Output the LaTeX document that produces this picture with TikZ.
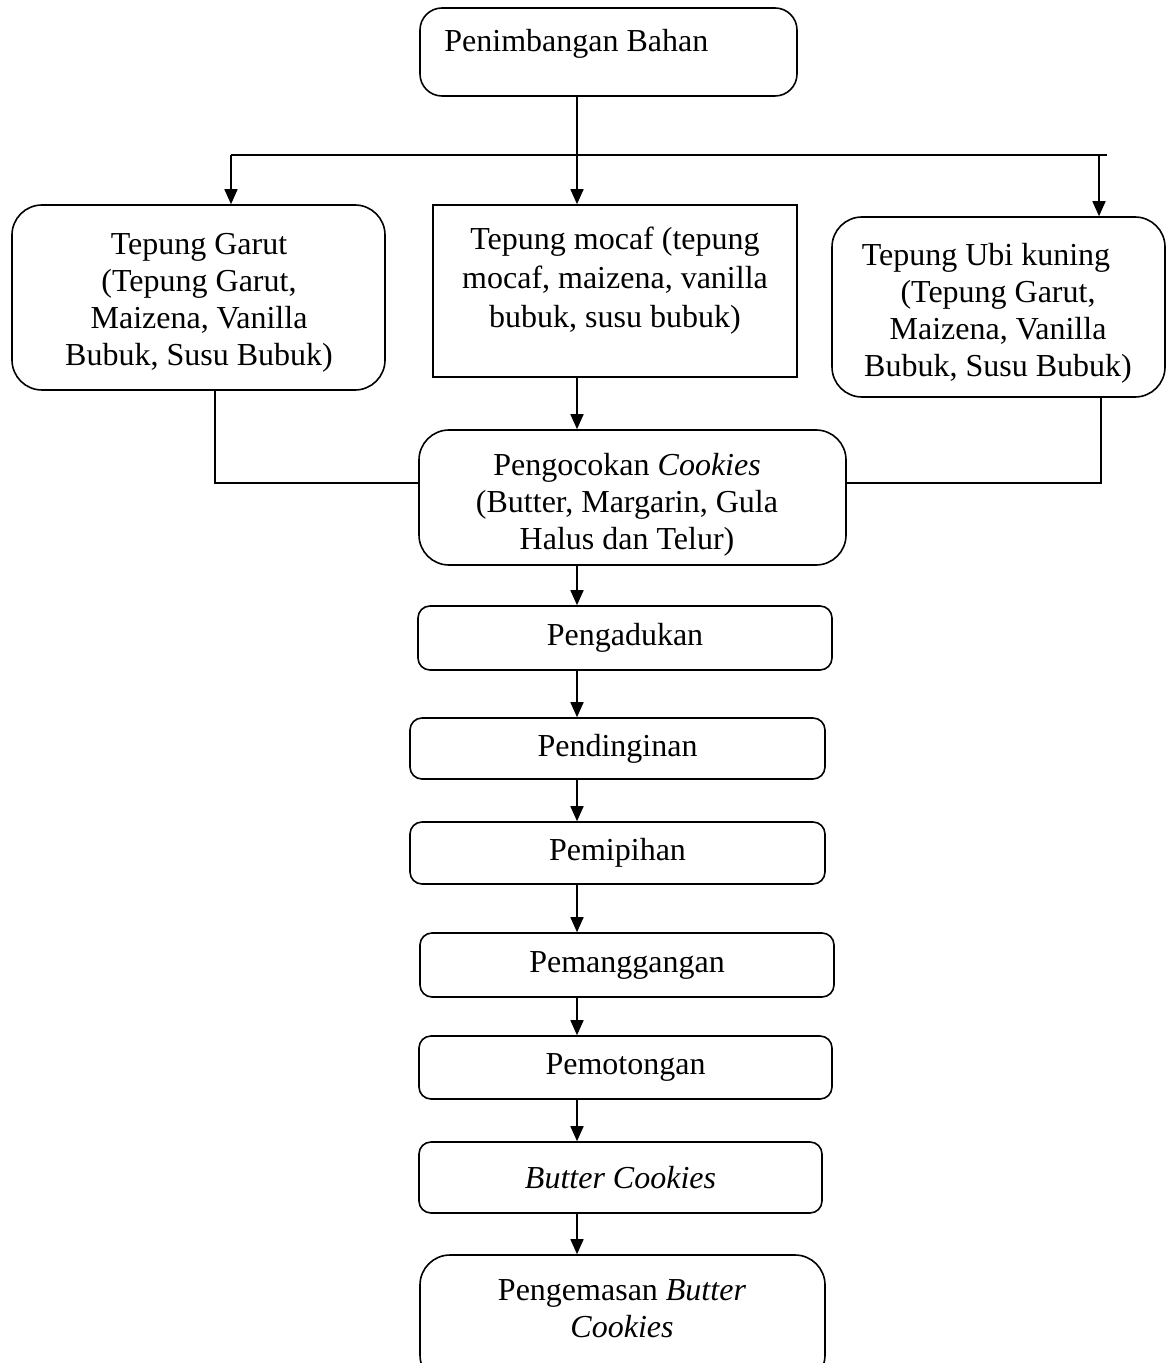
\documentclass[tikz,border=0pt]{standalone}
\usepackage{fontspec}
\setmainfont{Liberation Serif}
\usetikzlibrary{arrows.meta,fit}
\begin{document}
\begin{tikzpicture}[x=0.5pt,y=-0.5pt,
  every node/.style={font=\fontsize{16pt}{18.5pt}\selectfont},
  box/.style={draw,line width=0.8pt,inner sep=0pt},
  bigr/.style={box,rounded corners=15pt},
  midr/.style={box,rounded corners=11pt},
  smallr/.style={box,rounded corners=6pt},
  sharp/.style={box},
  txt/.style={align=center,inner sep=0pt},
  conn/.style={line width=0.8pt},
  arr/.style={conn,-{Triangle[length=7.5pt,width=6.5pt]}}]
\useasboundingbox (0,0) rectangle (1171,1363);
\clip (0,0) rectangle (1171,1363);
% boxes
\node[midr,fit={(420,8)(797,96)}] (pen) {};
\node[txt,anchor=base west] (pent) at (444,52) {Penimbangan Bahan};
\node[bigr,fit={(12,205)(385,390)}] (garut) {};
\node[txt] (garutt) at (199,303) {Tepung Garut\\(Tepung Garut,\\Maizena, Vanilla\\Bubuk, Susu Bubuk)};
\node[sharp,fit={(433,205)(797,377)}] (mocaf) {};
\node[txt,font=\fontsize{16pt}{19.5pt}\selectfont] (mocaft) at (615,281) {Tepung mocaf (tepung\\mocaf, maizena, vanilla\\bubuk, susu bubuk)};
\node[bigr,fit={(832,217)(1165,397)}] (ubi) {};
\node[txt] (ubit) at (998,313) {\hspace*{-12pt}Tepung Ubi kuning\\(Tepung Garut,\\Maizena, Vanilla\\Bubuk, Susu Bubuk)};
\node[bigr,fit={(419,430)(846,565)}] (koc) {};
\node[txt] (koct) at (627,505) {Pengocokan \textit{Cookies}\\(Butter, Margarin, Gula\\Halus dan Telur)};
\node[smallr,fit={(418,606)(832,670)}] (adu) {};
\node[txt] (adut) at (adu.center) {Pengadukan};
\node[smallr,fit={(410,718)(825,779)}] (ding) {};
\node[txt] (dingt) at (ding.center) {Pendinginan};
\node[smallr,fit={(410,822)(825,884)}] (pipih) {};
\node[txt] (pipiht) at (pipih.center) {Pemipihan};
\node[smallr,fit={(420,933)(834,997)}] (panggang) {};
\node[txt] (panggangt) at (panggang.center) {Pemanggangan};
\node[smallr,fit={(419,1036)(832,1099)}] (potong) {};
\node[txt] (potongt) at (potong.center) {Pemotongan};
\node[smallr,fit={(419,1142)(822,1213)}] (butter) {};
\node[txt] (buttert) at (butter.center) {\textit{Butter Cookies}};
\node[bigr,fit={(420,1255)(825,1385)}] (kemas) {};
\node[txt] (kemast) at (622,1309) {Pengemasan \textit{Butter}\\\textit{Cookies}};
% helper coordinates
\coordinate (cx) at (577,0);
\coordinate (barL) at (231,155);
\coordinate (barR) at (1107,155);
\coordinate (bR) at (1099,155);
\coordinate (gl) at (215,483);
\coordinate (gr) at (1101,483);
% connectors
\draw[arr] (pen.south -| cx) -- (mocaf.north -| cx);
\draw[conn] (barL) -- (barR);
\draw[arr] (barL) -- (garut.north -| barL);
\draw[arr] (bR) -- (ubi.north -| bR);
\draw[arr] (mocaf.south -| cx) -- (koc.north -| cx);
\draw[conn] (garut.south -| gl) -- (gl) -- (koc.west |- gl);
\draw[conn] (ubi.south -| gr) -- (gr) -- (koc.east |- gr);
\draw[arr] (koc.south -| cx) -- (adu.north -| cx);
\draw[arr] (adu.south -| cx) -- (ding.north -| cx);
\draw[arr] (ding.south -| cx) -- (pipih.north -| cx);
\draw[arr] (pipih.south -| cx) -- (panggang.north -| cx);
\draw[arr] (panggang.south -| cx) -- (potong.north -| cx);
\draw[arr] (potong.south -| cx) -- (butter.north -| cx);
\draw[arr] (butter.south -| cx) -- (kemas.north -| cx);
\end{tikzpicture}
\end{document}
